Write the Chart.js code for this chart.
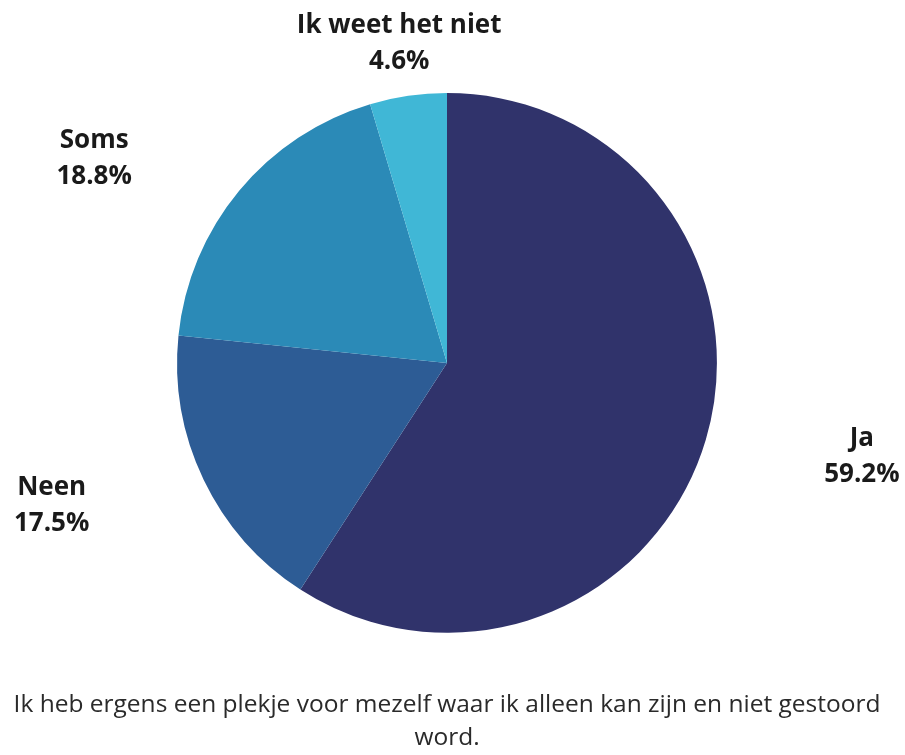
<!DOCTYPE html>
<html>
<head>
<meta charset="utf-8">
<script src="https://cdn.jsdelivr.net/npm/chart.js@4"></script>
<style>
  body { margin: 0; background: #fff; }
</style>
</head>
<body>
<canvas id="pieChart" width="905" height="755"></canvas>
<script>
/* ===== Data ===== */
const categories = ["Ja", "Neen", "Soms", "Ik weet het niet"];
const shares = [59.2, 17.5, 18.8, 4.6];
const sliceColors = ["#30336b", "#2d5c95", "#2b8ab7", "#40b7d6"];
const footerLines = [
  "Ik heb ergens een plekje voor mezelf waar ik alleen kan zijn en niet gestoord",
  "word."
];

// nudge of each label from the slice's outer edge (px)
const labelShift = [[156, 17], [-152, 26], [-145, -32], [-9, -52]];

/* ===== Slice labels ===== */
const sliceLabels = {
  id: "sliceLabels",
  afterDatasetsDraw(chart) {
    const ctx = chart.ctx;
    const meta = chart.getDatasetMeta(0);
    ctx.save();
    ctx.font = "bold 26px 'Open Sans', sans-serif";
    ctx.fillStyle = "#1a1a1a";
    ctx.textAlign = "center";
    ctx.textBaseline = "middle";
    meta.data.forEach((arc, i) => {
      const p = arc.getProps(["x", "y", "startAngle", "endAngle", "outerRadius"], true);
      const mid = (p.startAngle + p.endAngle) / 2;
      const x = p.x + Math.cos(mid) * p.outerRadius + labelShift[i][0];
      const y = p.y + Math.sin(mid) * p.outerRadius + labelShift[i][1];
      ctx.fillText(categories[i], x, y - 18);
      ctx.fillText(shares[i].toFixed(1) + "%", x, y + 18);
    });
    ctx.restore();
  }
};

/* ===== Chart ===== */
const ctx = document.getElementById("pieChart").getContext("2d");
new Chart(ctx, {
  type: "pie",
  data: {
    labels: categories,
    datasets: [{
      data: shares,
      backgroundColor: sliceColors,
      borderWidth: 0
    }]
  },
  options: {
    responsive: false,
    animation: false,
    layout: { padding: { top: 93, left: 0, right: 11, bottom: 0 } },
    plugins: {
      legend: { display: false },
      tooltip: { enabled: false },
      title: {
        display: true,
        position: "bottom",
        text: footerLines,
        color: "#2a2a2a",
        font: { family: "'Open Sans', sans-serif", size: 24.5, weight: "normal", lineHeight: 1.35 },
        padding: { top: 56, bottom: 0 }
      }
    }
  },
  plugins: [sliceLabels]
});
</script>
</body>
</html>
